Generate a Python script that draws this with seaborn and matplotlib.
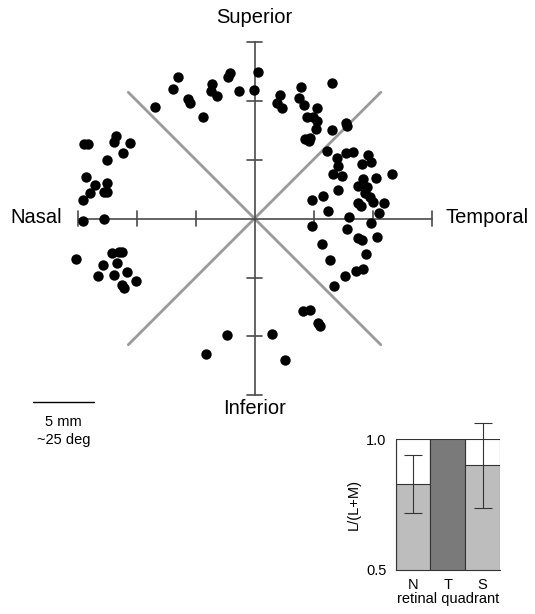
import matplotlib
matplotlib.use("Agg")
import matplotlib.pyplot as plt
import seaborn as sns

# cone positions in mm from the fovea (x < 0 nasal, x > 0 temporal; y > 0 superior)
x_mm = [
    # superior arc
    -8.43, -6.51, -6.88, -5.66, -5.47, -4.34, -3.63, -3.71, -3.15, -2.08, -2.22, -1.29, -0.04, 0.27,
    # superior-temporal
    6.59, 3.92, 2.16, 1.88, 2.31, 3.80, 4.20, 5.32, 4.42, 4.98, 5.27, 5.21, 6.59, 7.73, 7.86,
    4.28, 4.70, 4.64,
    # temporal
    6.17, 7.73, 8.32, 9.64, 9.87, 7.02, 7.10, 9.09, 6.63, 7.39, 10.30, 11.63, 9.22, 8.80, 9.51,
    9.36, 9.79, 10.02, 7.05, 4.90, 5.78, 8.80, 9.03, 10.98, 6.25, 8.03, 10.58, 4.85, 9.85, 7.86,
    8.80, 9.09, 10.36, 5.70, 9.42, 6.40, 8.56, 9.17, 7.70, 6.76,
    # inferior
    4.08, 4.70, 5.36, 5.58, 1.48, 2.61, -2.31, -4.14,
    # nasal upper
    -14.42, -14.14, -11.76, -11.88, -10.55, -11.17, -12.53, -14.31, -13.52, -13.94, -12.48,
    -12.75, -12.48, -14.51, -14.51, -12.75,
    # nasal lower
    -15.15, -12.10, -11.48, -11.20, -11.63, -12.81, -13.24, -11.91, -10.78, -10.07, -11.25, -11.03,
]
y_mm = [
    9.42, 11.97, 10.98, 10.10, 9.76, 8.58, 11.37, 10.83, 10.41, 12.36, 12.02, 10.83, 10.89, 12.44,
    11.46, 11.12, 10.47, 9.76, 9.39, 10.19, 9.62, 9.39, 8.58, 8.63, 8.29, 7.56, 7.50, 8.07, 7.80,
    6.71, 6.80, 6.59,
    5.75, 5.58, 5.61, 5.38, 4.76, 5.10, 4.47, 4.62, 3.75, 3.60, 3.46, 3.77, 3.32, 2.75, 2.64,
    2.14, 1.85, 1.42, 2.42, 1.57, 1.91, 1.34, 1.06, 1.29, 0.64, 0.10, 0.49, -0.61, -0.36, -0.92,
    -1.68, -1.82, -1.59, -2.16, -3.01, -3.54, -4.49, -4.28, -4.87, -5.72,
    -7.84, -7.75, -8.83, -9.11, -9.76, -11.99, -9.85, -11.48,
    6.31, 6.31, 7.02, 6.51, 6.37, 5.53, 4.96, 3.54, 2.84, 2.16, 3.03,
    2.27, 2.27, 1.57, -0.21, -0.04,
    -3.43, -2.95, -2.86, -2.86, -3.75, -3.94, -4.85, -4.79, -4.51, -5.30, -5.64, -5.92,
]

# inset: L/(L+M) per retinal quadrant
quadrants = ["N", "T", "S"]
l_frac = [0.83, 1.0, 0.90]
l_err = [0.111, 0.0, 0.161]

sns.set_style("white")
plt.rcParams["font.family"] = ["Liberation Sans", "DejaVu Sans"]
plt.rcParams["text.color"] = "black"
plt.rcParams["axes.labelcolor"] = "black"
plt.rcParams["xtick.color"] = "black"
plt.rcParams["ytick.color"] = "black"

fig = plt.figure(figsize=(5.35, 6.14), dpi=100)
ax = fig.add_axes([0, 0, 1, 1])
ax.set_xlim(-21.57, 23.77)
ax.set_ylim(-33.52, 18.52)
ax.axis("off")

# diagonal quadrant boundaries
d = 10.7
ax.plot([-d, d], [-d, d], color="#9a9a9a", lw=2, zorder=1)
ax.plot([-d, d], [d, -d], color="#9a9a9a", lw=2, zorder=1)

# cross axes with 5 mm ticks
ax_col = "#4a4a4a"
ax.plot([-15, 15], [0, 0], color=ax_col, lw=1.2, zorder=1)
ax.plot([0, 0], [-15, 15], color=ax_col, lw=1.2, zorder=1)
for t in [-15, -10, -5, 5, 10, 15]:
    ax.plot([t, t], [-0.6, 0.6], color=ax_col, lw=1.2, zorder=1)
    ax.plot([-0.6, 0.6], [t, t], color=ax_col, lw=1.2, zorder=1)

sns.scatterplot(x=x_mm, y=y_mm, color="black", s=56, linewidth=0, ax=ax, zorder=3)

lab_fs = 14.5
ax.text(0, 17.0, "Superior", ha="center", va="center", fontsize=lab_fs)
ax.text(0, -16.1, "Inferior", ha="center", va="center", fontsize=lab_fs)
ax.text(-16.3, 0.05, "Nasal", ha="right", va="center", fontsize=lab_fs)
ax.text(16.2, 0.05, "Temporal", ha="left", va="center", fontsize=lab_fs)

# scale bar
ax.plot([-18.77, -13.6], [-15.55, -15.55], color="black", lw=1)
ax.text(-16.2, -17.27, "5 mm", ha="center", va="center", fontsize=10.5)
ax.text(-16.2, -18.77, "~25 deg", ha="center", va="center", fontsize=10.5)

# inset bar chart
ins = fig.add_axes([0.7396, 0.0717, 0.195, 0.2128])
bar_cols = ["#bdbdbd", "#7a7a7a", "#bdbdbd"]
sns.barplot(x=quadrants, y=[1.0] * len(quadrants), color="white", edgecolor="#333333",
            linewidth=0.8, width=1.0, ax=ins)
sns.barplot(x=quadrants, y=l_frac, hue=quadrants, palette=bar_cols, legend=False,
            edgecolor="#333333", linewidth=0.8, width=1.0, ax=ins)
err_x = [i for i, e in enumerate(l_err) if e > 0]
ins.errorbar(err_x, [l_frac[i] for i in err_x], yerr=[l_err[i] for i in err_x],
             fmt="none", ecolor="#333333", elinewidth=0.8, capsize=6.5, capthick=0.8,
             clip_on=False, zorder=5)
ins.set_xlim(-0.5, 2.5)
ins.set_ylim(0.5, 1.0)
ins.set_yticks([0.5, 1.0])
ins.set_yticklabels(["0.5", "1.0"], fontsize=10.5)
ins.set_xticks([-0.5, 0.5, 1.5, 2.5])
ins.set_xticklabels([])
ins.set_xticks([0, 1, 2], minor=True)
ins.set_xticklabels(quadrants, minor=True, fontsize=10.5)
ins.tick_params(axis="x", which="major", direction="out", length=5, width=0.8, color="#333333")
ins.tick_params(axis="x", which="minor", length=0, pad=6)
ins.tick_params(axis="y", direction="out", length=4.5, width=0.8, color="#333333", pad=2)
ins.set_xlabel("retinal quadrant", fontsize=10.5, labelpad=0)
ins.set_ylabel("L/(L+M)", fontsize=10.5, labelpad=4)
for side in ["top", "right"]:
    ins.spines[side].set_visible(False)
for side in ["left", "bottom"]:
    ins.spines[side].set_color("#333333")
    ins.spines[side].set_linewidth(0.8)

fig.savefig("out.png", dpi=100)
